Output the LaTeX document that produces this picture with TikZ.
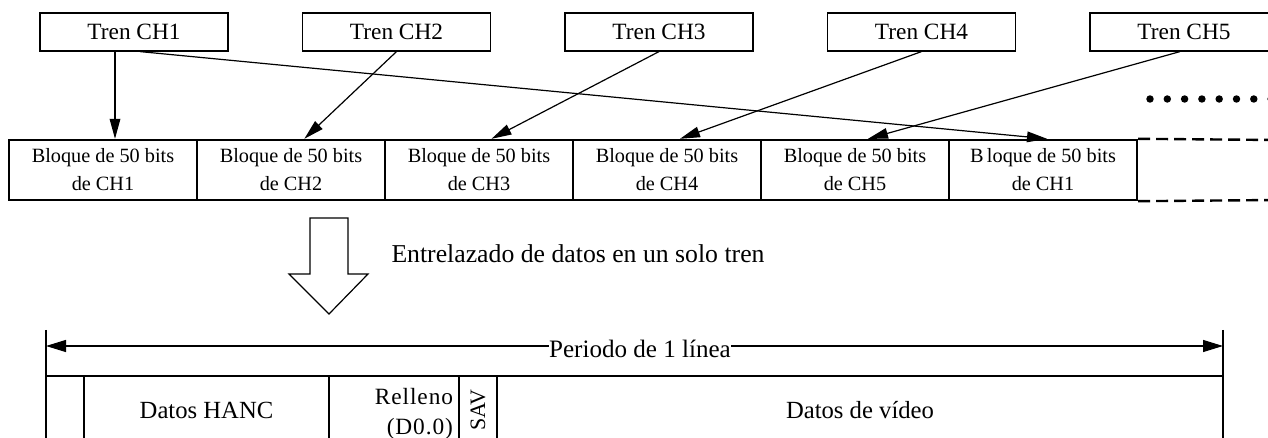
\documentclass[tikz,border=0pt]{standalone}
\usepackage{fontspec}
\setmainfont{Liberation Serif}
\newfontfamily\anchafont[LetterSpace=4]{Liberation Serif}
\usetikzlibrary{arrows.meta}

\tikzset{every picture/.style={line width=0.75pt}}
\tikzset{
  trenbox/.style={draw, line width=0.9pt, minimum width=141pt, minimum height=28.5pt, inner sep=0pt, font=\fontsize{17.5}{21}\selectfont},
  bloquebox/.style={draw, line width=1.8pt, minimum width=141pt, minimum height=45pt, inner sep=0pt, align=center, font=\fontsize{15.2}{21}\selectfont, execute at begin node=\rule{0pt}{17.5pt}},
  celda/.style={draw, line width=1.8pt, minimum height=51pt, inner sep=0pt, align=center, font=\fontsize{18.5}{22}\selectfont},
  flecha/.style={-{Triangle[length=15pt,width=8pt]}, line width=0.9pt},
}

\begin{document}
\begin{tikzpicture}[x=0.75pt,y=0.75pt,yscale=-1,xscale=1]
\useasboundingbox (0,0) rectangle (1268,438);

%Shape: Rectangle (trenes)
\node[trenbox] (tren1) at (134,32) {Tren CH1};
\node[trenbox] (tren2) at (396.5,32) {Tren CH2};
\node[trenbox] (tren3) at (659,32) {Tren CH3};
\node[trenbox] (tren4) at (921.5,32) {Tren CH4};
\node[trenbox] (tren5) at (1184,32) {Tren CH5};

%Shape: Rectangle (bloques)
\node[bloquebox] (bloque1) at (103,170) {Bloque de 50 bits\\de CH1};
\node[bloquebox] (bloque2) at (291,170) {Bloque de 50 bits\\de CH2};
\node[bloquebox] (bloque3) at (479,170) {Bloque de 50 bits\\de CH3};
\node[bloquebox] (bloque4) at (667,170) {Bloque de 50 bits\\de CH4};
\node[bloquebox] (bloque5) at (855,170) {Bloque de 50 bits\\de CH5};
\node[bloquebox] (bloque6) at (1043,170) {B\,loque de 50 bits\\de CH1};

%Straight Lines (dashed continuation)
\coordinate (finarriba) at (1275,140);
\coordinate (finabajo) at (1275,200);
\draw[line width=1.8pt, dash pattern=on 9pt off 4.5pt] (bloque6.north east) -- (finarriba);
\draw[line width=1.8pt, dash pattern=on 9pt off 4.5pt] (bloque6.south east) -- (finabajo);

%Straight Lines (arrows)
\draw[flecha] ([xshift=-14.25pt]tren1.south) -- ([xshift=9pt]bloque1.north);
\draw[flecha] ([xshift=4.5pt]tren1.south) -- ([xshift=3pt]bloque6.north);
\draw[flecha] (tren2.south) -- ([xshift=10pt]bloque2.north);
\draw[flecha] (tren3.south) -- ([xshift=9.4pt]bloque3.north);
\draw[flecha] (tren4.south) -- ([xshift=9.75pt]bloque4.north);
\draw[flecha] ([xshift=-3pt]tren5.south) -- ([xshift=9.75pt]bloque5.north);

%Shape: Circle (dots)
\fill (1150,99) circle (2.8pt);
\fill (1167.3,99) circle (2.8pt);
\fill (1184.6,99) circle (2.8pt);
\fill (1201.9,99) circle (2.8pt);
\fill (1219.2,99) circle (2.8pt);
\fill (1236.5,99) circle (2.8pt);
\fill (1253.8,99) circle (2.8pt);
\fill (1271.1,99) circle (2.8pt);

%Shape: Down Arrow
\draw[line width=0.9pt] (310,218) -- (348,218) -- (348,274) -- (368,274) -- (329,314) -- (289,274) -- (310,274) -- cycle;

% Text Node
\node[anchor=west, inner sep=0pt, font=\fontsize{19.3}{23}\selectfont] (entrelazado) at (391,253.5) {Entrelazado de datos en un solo tren};

%Straight Lines (period)
\coordinate (izq) at (46,346);
\coordinate (der) at (1223,346);
\coordinate (marcaizq) at (46,330);
\coordinate (marcader) at (1223,330);
\draw[line width=0.9pt] (marcaizq) -- (46,377);
\draw[line width=0.9pt] (marcader) -- (1223,377);
\draw[{Triangle[length=15pt,width=9pt]}-{Triangle[length=15pt,width=9pt]}, line width=0.9pt] (izq) -- (der);
% Text Node
\node[fill=white, inner xsep=0pt, inner ysep=1pt, font=\fontsize{18.8}{23}\selectfont] (periodo) at (640,349) {Periodo de 1 línea};

%Shape: Rectangle (linea)
\node[celda, minimum width=28.5pt] (vacia) at (65,410) {};
\node[celda, minimum width=183.75pt] (hanc) at (206.5,410) {Datos HANC};
\node[celda, minimum width=97.5pt, text width=88.5pt, align=right, font=\anchafont\fontsize{17.5}{22.5}\selectfont] (relleno) at (394,410) {\rule{0pt}{18pt}Relleno\\(D0.0)};
\node[celda, rotate=90, minimum width=51pt, minimum height=28.5pt, font=\fontsize{16.5}{18}\selectfont] (sav) at (478,410) {SAV};
\node[celda, minimum width=544.5pt] (video) at (860,410) {Datos de vídeo};

\end{tikzpicture}
\end{document}
